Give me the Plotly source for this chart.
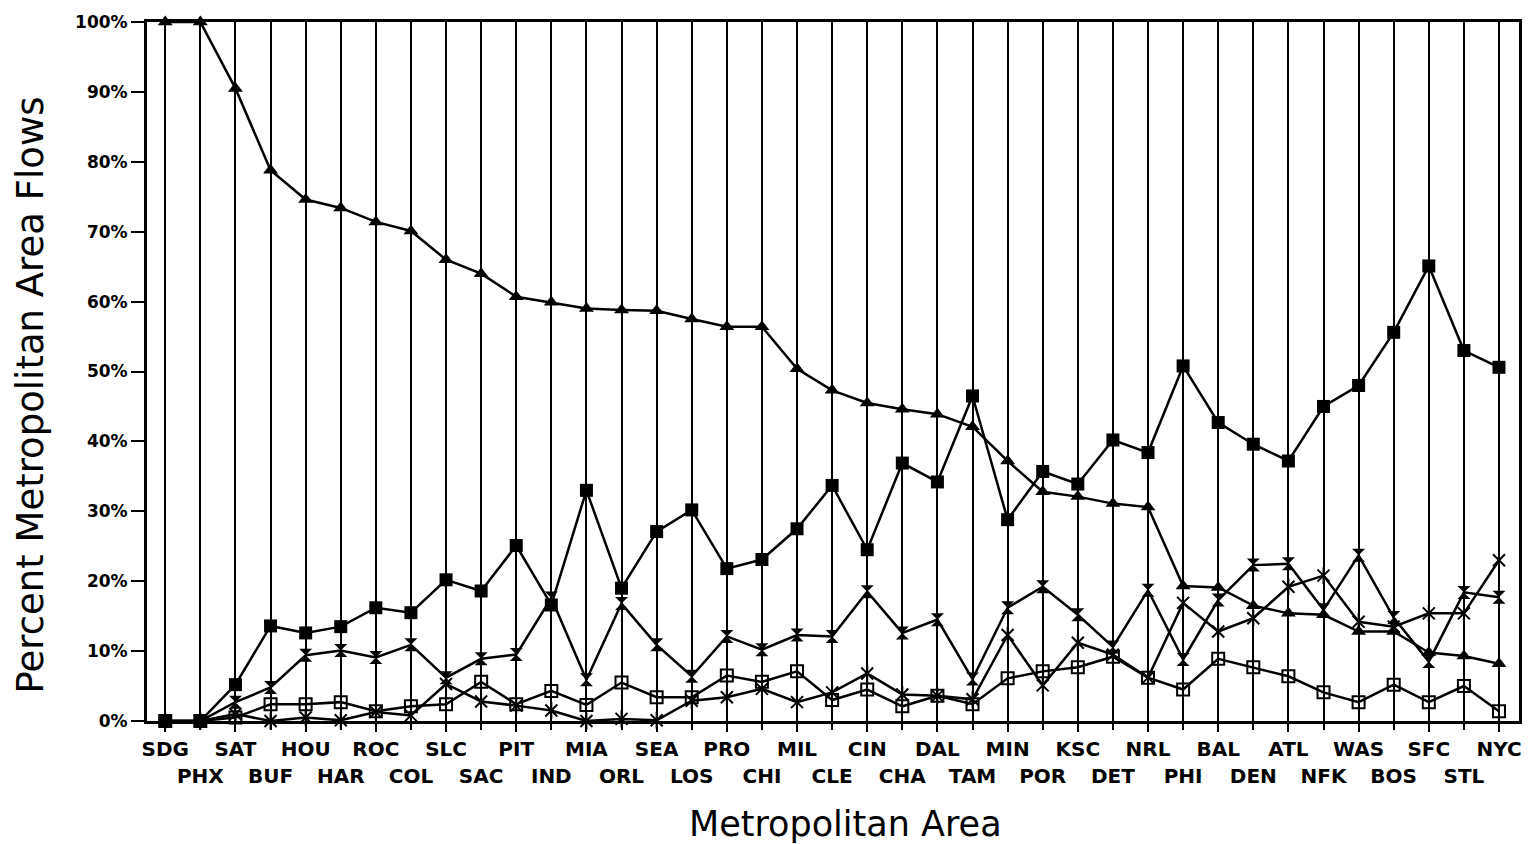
import plotly.graph_objects as go

cities = ["SDG","PHX","SAT","BUF","HOU","HAR","ROC","COL","SLC","SAC","PIT","IND","MIA","ORL","SEA","LOS","PRO","CHI","MIL","CLE",
          "CIN","CHA","DAL","TAM","MIN","POR","KSC","DET","NRL","PHI","BAL","DEN","ATL","NFK","WAS","BOS","SFC","STL","NYC"]

series_triangle = [100,100,90.5,78.8,74.6,73.4,71.4,70.1,66.0,64.0,60.7,59.9,59.0,58.8,58.7,57.5,56.4,56.4,50.4,47.3,
                   45.5,44.6,43.9,42.1,37.2,32.8,32.1,31.1,30.6,19.3,19.1,16.5,15.4,15.2,12.8,12.8,9.8,9.3,8.2]
series_square = [0,0,5.2,13.6,12.6,13.5,16.2,15.5,20.2,18.6,25.1,16.6,33.0,19.0,27.1,30.2,21.8,23.1,27.5,33.7,
                 24.5,36.9,34.2,46.5,28.8,35.7,33.9,40.2,38.4,50.8,42.7,39.6,37.2,45.0,48.0,55.6,65.1,53.0,50.6]
series_hourglass = [0,0,2.7,4.8,9.4,10.1,9.1,10.9,6.2,8.9,9.5,17.6,5.9,16.8,10.9,6.4,12.1,10.2,12.3,12.1,
                    18.5,12.6,14.5,6.0,16.2,19.2,15.2,10.6,18.7,8.8,17.3,22.3,22.5,15.9,23.7,14.8,8.5,18.4,17.7]
series_open_square = [0,0,0.5,2.4,2.4,2.7,1.4,2.1,2.4,5.6,2.4,4.3,2.3,5.5,3.4,3.4,6.5,5.6,7.1,3.0,
                      4.5,2.1,3.6,2.4,6.1,7.1,7.7,9.2,6.2,4.5,8.9,7.7,6.4,4.1,2.7,5.2,2.7,5.0,1.4]
series_asterisk = [0,0,1.0,0,0.5,0.1,1.3,0.8,5.3,2.8,2.2,1.5,0,0.3,0.1,2.9,3.4,4.6,2.7,4.1,
                   6.8,3.8,3.6,3.1,12.3,5.1,11.2,9.5,6.2,16.9,12.8,14.7,19.2,20.8,14.2,13.5,15.4,15.4,23.0]

y_ticks = list(range(0, 101, 10))

idx = list(range(len(cities)))
even_idx = idx[0::2]
odd_idx = idx[1::2]
xr = [-0.52, 38.57]

FONT = "DejaVu Sans, Liberation Sans, Arial, sans-serif"
fig = go.Figure()

def add_line(vals, symbol, size, name, lw=0):
    fig.add_trace(go.Scatter(
        x=idx, y=vals, mode="lines+markers", name=name,
        line=dict(color="black", width=2.5),
        marker=dict(symbol=symbol, size=size, color="black",
                    line=dict(color="black", width=lw)),
        showlegend=False, cliponaxis=False))

add_line(series_open_square, "square-open", 12, "open square", lw=2)
add_line(series_asterisk, "x-thin-open", 12, "asterisk", lw=2)
fig.add_trace(go.Scatter(x=idx, y=series_asterisk, mode="markers", xaxis="x2",
                         marker=dict(symbol="line-ns-open", size=12, color="black", line=dict(color="black", width=2)),
                         showlegend=False, cliponaxis=False))
add_line(series_hourglass, "hourglass", 13, "hourglass")
add_line(series_square, "square", 13, "filled square")
add_line(series_triangle, "triangle-up", 13, "triangle")

fig.update_layout(
    width=1534, height=844,
    margin=dict(l=147, r=14, t=16, b=123),
    paper_bgcolor="white", plot_bgcolor="white",
    font=dict(family=FONT, color="black"),
    xaxis=dict(range=xr, tickmode="array", tickvals=even_idx,
               ticktext=[cities[i] for i in even_idx],
               showgrid=True, gridcolor="black", gridwidth=2,
               ticks="outside", ticklen=8, tickwidth=2, tickcolor="black",
               tickfont=dict(size=20, family=FONT, weight="bold"),
               showline=True, linecolor="black", linewidth=3, mirror=True,
               zeroline=False),
    xaxis2=dict(range=xr, overlaying="x", side="bottom", tickmode="array",
                tickvals=odd_idx, ticktext=[cities[i] for i in odd_idx],
                showgrid=True, gridcolor="black", gridwidth=2,
                ticks="outside", ticklen=8, tickwidth=2, tickcolor="black",
                ticklabelstandoff=29,
                tickfont=dict(size=20, family=FONT, weight="bold"),
                showline=False, zeroline=False),
    yaxis=dict(range=[0, 100], tickmode="array", tickvals=y_ticks,
               ticktext=[f"{v}%" for v in y_ticks],
               showgrid=False, ticks="outside", ticklen=13, tickwidth=2, tickcolor="black",
               tickfont=dict(size=17, family=FONT, weight="bold"),
               showline=True, linecolor="black", linewidth=3, mirror=True,
               zeroline=False),
    annotations=[
        dict(text="Percent Metropolitan Area Flows", x=0, xref="paper", y=0.5, yref="paper",
             xanchor="center", yanchor="middle", xshift=-117, yshift=-24, textangle=-90,
             showarrow=False, font=dict(size=37, family=FONT, color="black")),
        dict(text="Metropolitan Area", x=0.509, xref="paper", y=0, yref="paper",
             xanchor="center", yanchor="top", yshift=-81, showarrow=False,
             font=dict(size=35, family=FONT, color="black"))],
)

fig.write_html("out.html")
